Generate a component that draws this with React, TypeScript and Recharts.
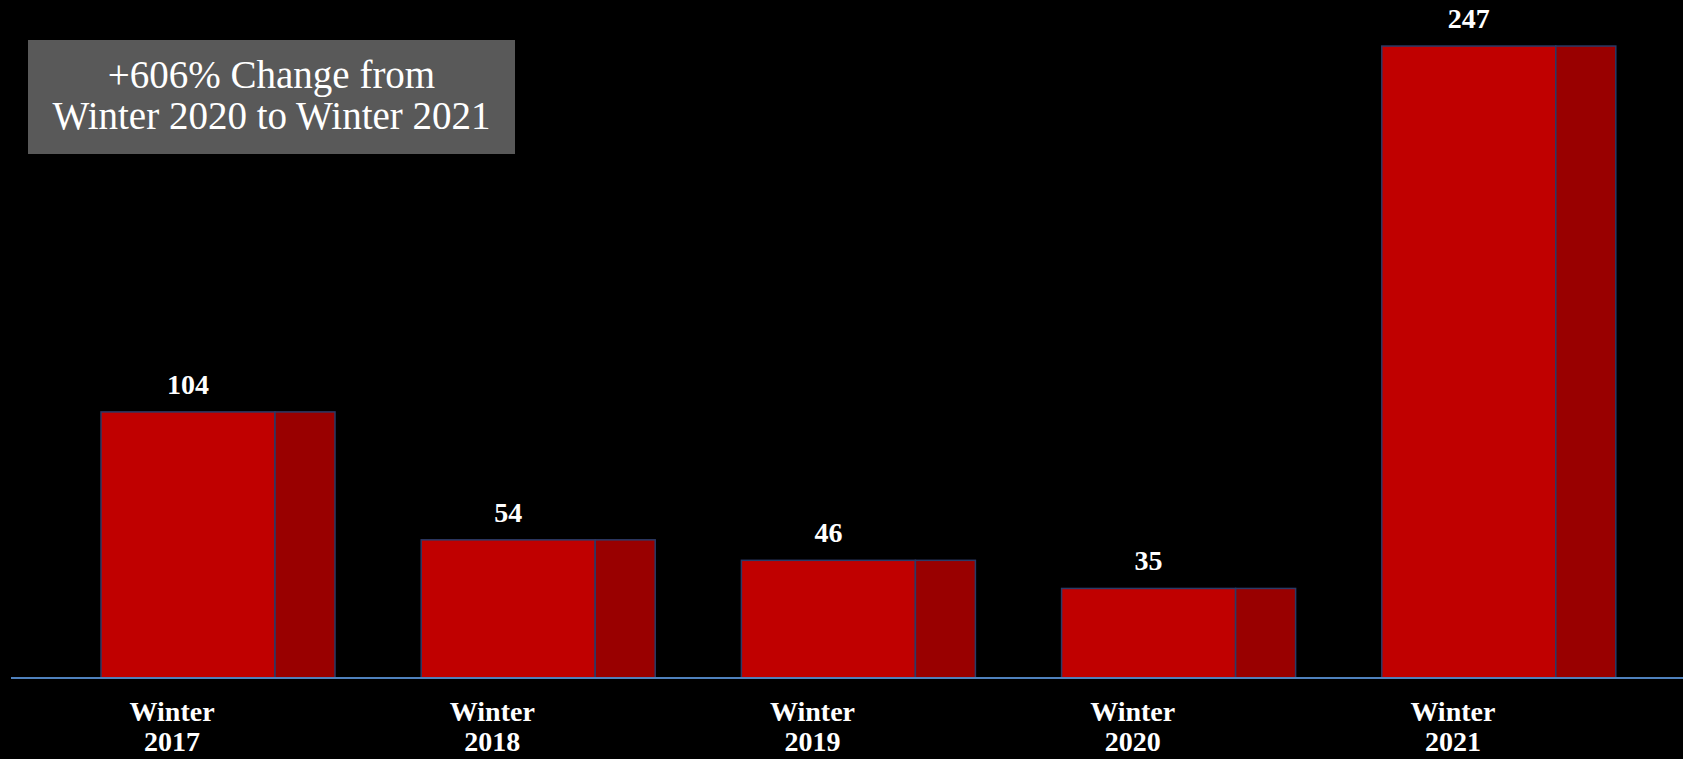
import { Bar, BarChart, LabelList, XAxis, YAxis } from "recharts"

const seasons = ["Winter 2017", "Winter 2018", "Winter 2019", "Winter 2020", "Winter 2021"]
const counts = [104, 54, 46, 35, 247]
const calloutLines = ["+606% Change from", "Winter 2020 to Winter 2021"]

const data = seasons.map((season, i) => ({ season, count: counts[i] }))

// share of the bar that is the lit front face; the rest is the darker side
const FRONT = 174 / 234
const SERIF = "'Liberation Serif', 'DejaVu Serif', serif"

function Block3D(props: any) {
  const { x, y, width, height } = props
  const front = width * FRONT
  return (
    <g>
      <rect x={x} y={y} width={front} height={height} fill="#C00000" stroke="#2B3A67" strokeWidth={1.5} />
      <rect x={x + front} y={y} width={width - front} height={height} fill="#990000" stroke="#2B3A67" strokeWidth={1.5} />
    </g>
  )
}

function ValueLabel(props: any) {
  const { x, y, width, value } = props
  return (
    <text x={x + (width * FRONT) / 2} y={y - 18} textAnchor="middle" fill="#fff" fontFamily={SERIF} fontWeight="bold" fontSize={28}>
      {value}
    </text>
  )
}

function SeasonTick(props: any) {
  const { x, y, payload } = props
  const [word, year] = String(payload.value).split(" ")
  // labels sit left of the bar centre, as in the source deck
  return (
    <text x={x - 46} y={y} textAnchor="middle" fill="#fff" fontFamily={SERIF} fontWeight="bold" fontSize={28}>
      <tspan x={x - 46} dy={43}>{word}</tspan>
      <tspan x={x - 46} dy={30}>{year}</tspan>
    </text>
  )
}

export default function App() {
  return (
    <div style={{ position: "relative", width: 1683, height: 759, background: "#000", overflow: "hidden" }}>
      <style>{`body{margin:0;background:#000}`}</style>
      <BarChart width={1683} height={759} data={data} margin={{ top: 0, right: 0, bottom: 0, left: 11 }} barSize={234}>
        <XAxis
          dataKey="season"
          height={81}
          padding={{ left: 47, right: 24 }}
          axisLine={{ stroke: "#4F81BD", strokeWidth: 2 }}
          tickLine={false}
          tickSize={0}
          tickMargin={0}
          tick={<SeasonTick />}
          interval={0}
        />
        <YAxis hide domain={[0, 265]} />
        <Bar dataKey="count" shape={<Block3D />} isAnimationActive={false}>
          <LabelList dataKey="count" content={<ValueLabel />} />
        </Bar>
      </BarChart>
      <div
        style={{
          position: "absolute",
          left: 28,
          top: 40,
          width: 487,
          height: 114,
          background: "#595959",
          color: "#fff",
          fontFamily: SERIF,
          fontSize: 39,
          lineHeight: "41px",
          paddingBottom: 4,
          boxSizing: "border-box",
          display: "flex",
          flexDirection: "column",
          alignItems: "center",
          justifyContent: "center",
        }}
      >
        {calloutLines.map((line) => (
          <div key={line}>{line}</div>
        ))}
      </div>
    </div>
  )
}
